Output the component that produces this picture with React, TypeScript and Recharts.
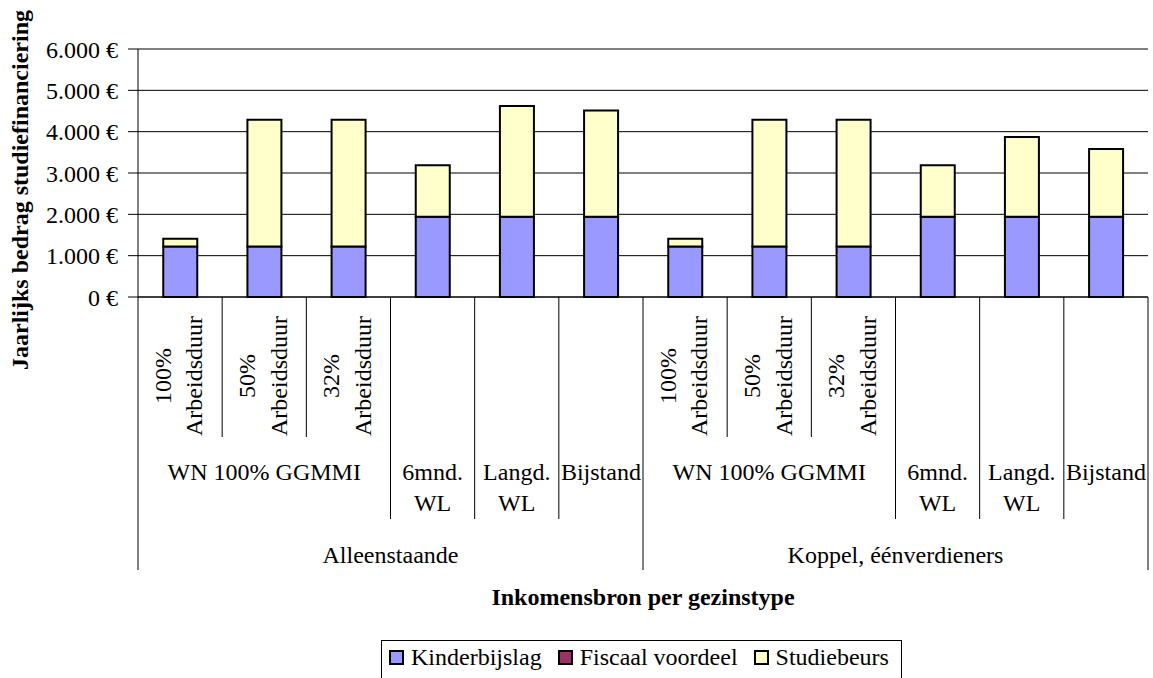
import React from "react";
import { BarChart, Bar, XAxis, YAxis, CartesianGrid, Legend, Label } from "recharts";

const FONT = "'Liberation Serif', 'Times New Roman', serif";

// multi-level category labels, one entry per bar
const groups = [
  "Alleenstaande", "Alleenstaande", "Alleenstaande", "Alleenstaande", "Alleenstaande", "Alleenstaande",
  "Koppel, éénverdieners", "Koppel, éénverdieners", "Koppel, éénverdieners",
  "Koppel, éénverdieners", "Koppel, éénverdieners", "Koppel, éénverdieners",
];
const sources = [
  "WN 100% GGMMI", "WN 100% GGMMI", "WN 100% GGMMI", "6mnd.\nWL", "Langd.\nWL", "Bijstand",
  "WN 100% GGMMI", "WN 100% GGMMI", "WN 100% GGMMI", "6mnd.\nWL", "Langd.\nWL", "Bijstand",
];
const hours = [
  "100%\nArbeidsduur", "50%\nArbeidsduur", "32%\nArbeidsduur", "", "", "",
  "100%\nArbeidsduur", "50%\nArbeidsduur", "32%\nArbeidsduur", "", "", "",
];

const seriesNames = ["Kinderbijslag", "Fiscaal voordeel", "Studiebeurs"];
const kinderbijslag = [1220, 1220, 1220, 1940, 1940, 1940, 1220, 1220, 1220, 1940, 1940, 1940];
const fiscaalVoordeel = [0, 0, 0, 0, 0, 0, 0, 0, 0, 0, 0, 0];
const studiebeurs = [190, 3070, 3070, 1250, 2680, 2575, 190, 3070, 3070, 1250, 1930, 1640];

const yTicks = [0, 1000, 2000, 3000, 4000, 5000, 6000];

const data = kinderbijslag.map((k, i) => ({
  id: `${groups[i]}|${sources[i]}|${hours[i]}`,
  kinderbijslag: k,
  fiscaal: fiscaalVoordeel[i],
  studiebeurs: studiebeurs[i],
}));

const euro = (v: number) => String(v).replace(/\B(?=(\d{3})+(?!\d))/g, ".") + " €";

function runLength(arr: string[], start: number) {
  let n = 1;
  while (start + n < arr.length && arr[start + n] === arr[start] && groups[start + n] === groups[start]) n++;
  return n;
}

function CategoryTick(props: any) {
  const { x, y, payload, width, visibleTicksCount } = props;
  const i = payload.index;
  const half = payload.offset || width / visibleTicksCount / 2;
  const left = x - half;
  const newGroup = i === 0 || groups[i] !== groups[i - 1];
  const newSource = newGroup || sources[i] !== sources[i - 1];
  const sepLen = newGroup ? 273 : newSource ? 222 : 140;
  const txt = { fontFamily: FONT, fontSize: 24, fill: "#000" };

  const hourLines = hours[i] ? hours[i].split("\n") : [];
  return (
    <g>
      <line x1={left} x2={left} y1={y} y2={y + sepLen} stroke="#000" strokeWidth={1} />
      {i === groups.length - 1 && (
        <line x1={x + half} x2={x + half} y1={y} y2={y + 273} stroke="#000" strokeWidth={1} />
      )}
      {hourLines.length > 0 && (
        <text transform={`translate(${x}, ${y + 79}) rotate(-90)`} textAnchor="middle" dominantBaseline="central" {...txt}>
          {hourLines.map((l, k) => (
            <tspan key={k} x={0} y={(k - (hourLines.length - 1) / 2) * 31.5 - 1.5}>{l}</tspan>
          ))}
        </text>
      )}
      {newSource && (
        <text textAnchor="middle" dominantBaseline="central" {...txt}>
          {sources[i].split("\n").map((l, k) => (
            <tspan key={k} x={left + runLength(sources, i) * half} y={y + 175 + k * 31}>{l}</tspan>
          ))}
        </text>
      )}
      {newGroup && (
        <text x={left + runLength(groups, i) * half} y={y + 258} textAnchor="middle" dominantBaseline="central" {...txt}>
          {groups[i]}
        </text>
      )}
    </g>
  );
}

function YTitle(props: any) {
  const vb = props.viewBox;
  const cx = vb.x + 20;
  const cy = vb.y + vb.height / 2 + 17;
  return (
    <text transform={`translate(${cx}, ${cy}) rotate(-90)`} textAnchor="middle" dominantBaseline="central"
      fontFamily={FONT} fontSize={24} fontWeight="bold" fill="#000">
      Jaarlijks bedrag studiefinanciering
    </text>
  );
}

function LegendBox(props: any) {
  const items = [...(props.payload || [])].sort(
    (a: any, b: any) => seriesNames.indexOf(a.value) - seriesNames.indexOf(b.value)
  );
  return (
    <div style={{
      display: "flex", alignItems: "center", border: "1px solid #000", height: 44, boxSizing: "border-box",
      padding: "0 12px 10px 7px", fontFamily: FONT, fontSize: 24, color: "#000", whiteSpace: "nowrap", background: "#fff",
    }}>
      {items.map((it: any, k: number) => (
        <span key={k} style={{ display: "flex", alignItems: "center", marginRight: k < items.length - 1 ? 16 : 0 }}>
          <span style={{
            display: "inline-block", width: 15, height: 15, boxSizing: "border-box",
            border: "2px solid #000", background: it.color, marginRight: 7,
          }} />
          {it.value}
        </span>
      ))}
    </div>
  );
}

export default function App() {
  return (
    <div style={{ position: "absolute", left: 0, top: 0, width: 1153, height: 678, overflow: "hidden", background: "#fff" }}>
      <BarChart width={1153} height={678} data={data} barCategoryGap="30%"
        margin={{ top: 49, right: 5, bottom: 0, left: 0 }}>
        <CartesianGrid vertical={false} stroke="#000" strokeWidth={1} />
        <XAxis dataKey="id" interval={0} height={381} tickSize={0} tickMargin={0} tickLine={false}
          axisLine={{ stroke: "#000" }} tick={<CategoryTick />}>
          <Label value="Inkomensbron per gezinstype" position="insideBottom" offset={73}
            style={{ fontFamily: FONT, fontSize: 24, fontWeight: "bold", fill: "#000" }} />
        </XAxis>
        <YAxis width={138} domain={[0, 6000]} ticks={yTicks} tickFormatter={euro} tickSize={10} tickMargin={10}
          axisLine={{ stroke: "#000" }} tickLine={{ stroke: "#000" }}
          tick={{ fontFamily: FONT, fontSize: 24, fill: "#000" }}>
          <Label content={<YTitle />} />
        </YAxis>
        <YAxis yAxisId="right" orientation="right" width={0} domain={[0, 6000]} tick={false} tickLine={false}
          axisLine={{ stroke: "#000" }} />
        <Legend layout="vertical" align="center" verticalAlign="middle" content={<LegendBox />}
          wrapperStyle={{ top: 640, left: 381, width: "auto" }} />
        <Bar dataKey="kinderbijslag" name={seriesNames[0]} stackId="a" fill="#9999FF" stroke="#000" strokeWidth={2} isAnimationActive={false} />
        <Bar dataKey="fiscaal" name={seriesNames[1]} stackId="a" fill="#993366" stroke="#000" strokeWidth={2} isAnimationActive={false} />
        <Bar dataKey="studiebeurs" name={seriesNames[2]} stackId="a" fill="#FFFFCC" stroke="#000" strokeWidth={2} isAnimationActive={false} />
      </BarChart>
    </div>
  );
}
